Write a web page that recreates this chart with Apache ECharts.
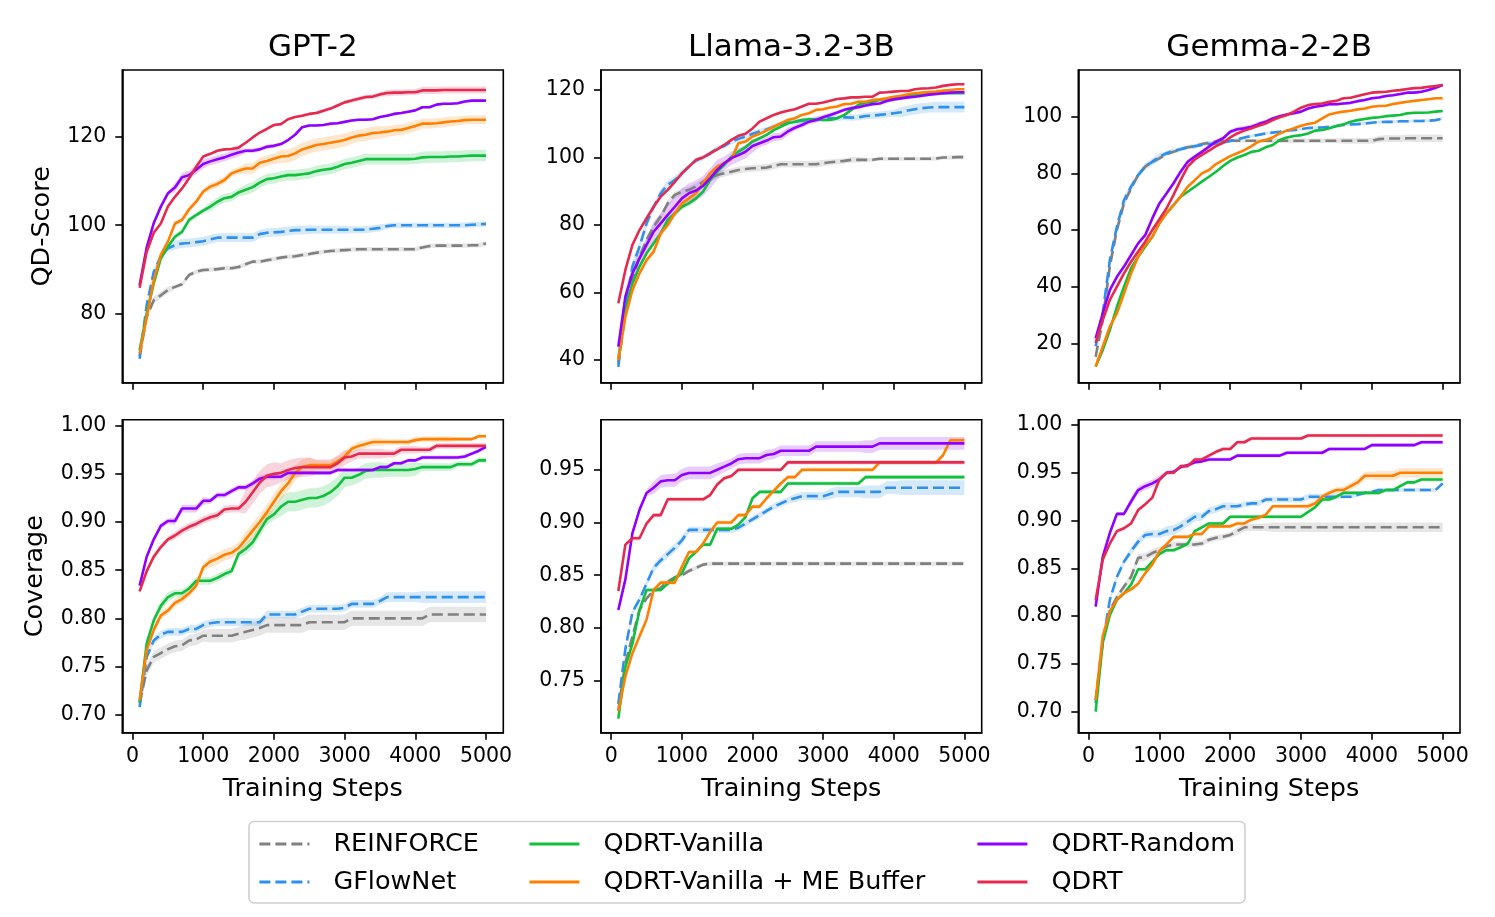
<!DOCTYPE html>
<html><head><meta charset="utf-8">
<script src="https://cdn.jsdelivr.net/npm/echarts@6/dist/echarts.min.js"></script>
<style>html,body{margin:0;padding:0;background:#fff}#chart{width:1495px;height:917px}</style>
</head><body><div id="chart"></div>
<script>
// ---------------- DATA ----------------
const models = ['GPT-2', 'Llama-3.2-3B', 'Gemma-2-2B'];
const methods = ['REINFORCE', 'GFlowNet', 'QDRT-Vanilla', 'QDRT-Vanilla + ME Buffer', 'QDRT-Random', 'QDRT'];
const steps = [100,200,300,400,500,600,700,800,900,1000,1100,1200,1300,1400,1500,1600,1700,1800,1900,2000,
  2100,2200,2300,2400,2500,2600,2700,2800,2900,3000,3100,3200,3300,3400,3500,3600,3700,3800,3900,4000,
  4100,4200,4300,4400,4500,4600,4700,4800,4900,5000];
const xTicks = [0, 1000, 2000, 3000, 4000, 5000];
const gpt2QDTicks = [80, 100, 120];
const llamaQDTicks = [40, 60, 80, 100, 120];
const gemmaQDTicks = [20, 40, 60, 80, 100];
const gpt2CovTicks = [0.70, 0.75, 0.80, 0.85, 0.90, 0.95, 1.00];
const llamaCovTicks = [0.75, 0.80, 0.85, 0.90, 0.95];
const gemmaCovTicks = [0.70, 0.75, 0.80, 0.85, 0.90, 0.95, 1.00];

// GPT-2 QD-Score
const gpt2QD_REINFORCE = [70.5,79.3,83.1,84.2,85.4,86.1,86.7,88.8,89.5,89.9,90.0,90.1,90.3,90.3,90.6,91.2,91.8,91.8,92.1,92.4,92.7,92.9,93.0,93.3,93.5,93.8,94.0,94.2,94.3,94.4,94.5,94.6,94.6,94.6,94.6,94.6,94.6,94.6,94.6,94.6,95.0,95.3,95.4,95.4,95.4,95.4,95.4,95.5,95.5,95.9];
const gpt2QD_GFlowNet = [69.9,82.0,89.5,93.0,94.8,95.5,95.9,96.0,96.2,96.4,96.8,97.2,97.2,97.2,97.2,97.2,97.2,98.0,98.3,98.4,98.5,98.7,98.9,98.9,99.0,99.0,99.0,99.0,99.0,99.0,99.0,99.0,99.0,99.2,99.4,99.8,100.0,100.0,100.0,100.0,100.0,100.0,100.0,100.0,100.0,100.0,100.0,100.1,100.2,100.3];
const gpt2QD_Vanilla = [71.8,80.1,86.9,92.5,95.2,97.4,98.5,101.2,102.3,103.3,104.2,105.3,106.1,106.4,107.4,108.0,108.6,109.6,110.4,110.6,111.0,111.3,111.3,111.5,111.7,112.2,112.5,112.7,113.2,113.8,114.1,114.5,114.9,114.9,114.9,114.9,114.9,114.9,114.9,115.0,115.3,115.4,115.4,115.4,115.5,115.5,115.6,115.7,115.7,115.7];
const gpt2QD_MEBuffer = [71.1,79.3,87.6,93.3,96.3,100.4,101.2,103.6,105.3,107.6,108.7,109.3,110.2,111.7,112.3,112.8,112.8,114.1,114.5,115.0,115.5,115.6,116.2,117.1,117.6,118.1,118.3,118.6,118.9,119.2,119.8,120.2,120.4,120.8,120.9,121.1,121.4,121.5,121.9,122.4,122.9,122.9,123.0,123.2,123.4,123.5,123.7,123.8,123.8,123.8];
const gpt2QD_Random = [86.5,95.0,100.5,104.2,107.2,108.5,110.8,111.3,112.5,113.8,114.4,114.9,115.3,115.9,116.4,116.8,116.8,117.1,117.7,117.9,118.3,119.2,120.4,122.1,122.5,122.5,122.6,122.9,123.0,123.3,123.6,123.8,123.8,123.9,124.4,124.7,125.1,125.3,125.6,125.9,126.6,126.6,127.2,127.4,127.4,127.5,127.9,128.1,128.1,128.1];
const gpt2QD_QDRT = [85.9,94.0,98.3,100.4,104.2,106.4,108.3,110.6,113.2,115.5,116.1,116.8,117.1,117.2,117.5,118.6,119.8,120.9,121.7,122.6,122.8,123.9,124.4,124.7,125.1,125.3,125.8,126.3,127.0,127.7,128.1,128.5,128.9,129.0,129.5,129.8,129.9,129.9,130.0,130.0,130.4,130.4,130.4,130.5,130.5,130.5,130.5,130.5,130.5,130.5];
// band half-widths, one value per 500 steps
const gpt2QD_band = [
  [0.8,0.5,0.5,0.5,0.5,0.5,0.5,0.5,0.5,0.5],
  [0.8,1.0,1.0,1.0,1.0,0.9,0.8,0.6,0.6,0.6],
  [0.5,0.6,1.0,1.2,1.2,1.2,1.2,1.2,1.3,1.3],
  [0.5,0.6,0.8,1.2,1.5,1.5,1.4,1.2,1.1,1.0],
  [0.4,1.0,0.9,0.5,0.3,0.3,0.3,0.3,0.3,0.3],
  [0.3,0.3,0.3,0.3,0.3,0.4,0.5,0.7,0.8,0.8]];

// Llama QD-Score
const llamaQD_REINFORCE = [39.0,53.8,63.7,70.6,75.6,79.5,82.5,86.4,88.9,89.9,90.4,91.4,92.8,93.8,94.8,95.3,95.8,96.3,96.6,96.8,96.9,97.0,97.5,98.0,98.0,98.0,98.0,98.0,98.0,98.3,98.6,98.8,99.0,99.3,99.3,99.3,99.3,99.6,99.6,99.6,99.6,99.6,99.6,99.6,99.6,99.7,100.0,100.0,100.1,100.1];
const llamaQD_GFlowNet = [38.0,55.8,67.7,73.6,80.5,85.4,89.4,91.9,93.3,95.3,97.3,99.1,100.0,101.2,102.7,103.4,104.7,105.5,106.2,107.0,107.7,108.3,109.1,109.8,110.3,110.6,110.9,111.1,111.3,111.4,111.6,111.7,111.9,111.8,111.9,112.3,112.4,112.6,112.8,113.1,113.4,113.9,114.3,114.6,114.8,114.9,114.9,114.9,114.9,114.9];
const llamaQD_Vanilla = [40.5,54.8,62.7,67.7,71.6,74.6,77.5,81.5,83.5,85.4,86.4,87.9,89.9,93.3,95.8,97.8,100.2,101.7,103.0,104.7,105.7,106.7,108.1,109.1,110.1,110.6,111.1,111.3,111.3,111.1,111.1,111.6,112.6,114.1,115.6,116.2,116.5,117.0,117.3,117.8,118.0,118.3,118.5,118.7,118.8,119.0,119.0,119.0,119.0,119.0];
const llamaQD_MEBuffer = [40.0,52.8,60.7,65.7,69.6,72.1,77.5,80.0,83.5,86.4,87.9,89.4,92.3,95.3,97.3,98.3,99.5,104.2,104.7,106.2,107.0,108.0,109.1,110.1,111.1,111.6,112.6,113.1,114.1,114.3,114.8,115.1,115.8,115.9,116.5,116.5,117.0,117.2,117.5,118.0,118.3,118.7,119.0,119.2,119.4,119.5,119.8,120.0,120.2,120.2];
const llamaQD_Random = [44.0,58.8,65.7,70.1,74.1,78.0,80.5,83.0,85.4,87.9,89.4,90.2,91.6,93.8,96.3,98.3,99.8,100.7,101.7,103.4,104.2,105.0,106.0,106.2,107.7,108.8,109.6,110.6,111.1,111.9,112.6,113.3,114.1,114.6,114.9,115.4,115.8,116.0,116.7,117.2,117.5,117.8,118.0,118.3,118.6,118.8,119.0,119.2,119.3,119.3];
const llamaQD_QDRT = [56.8,66.7,74.1,78.5,82.0,85.4,88.4,90.4,92.8,95.3,97.3,99.3,100.0,101.2,102.4,103.7,105.2,106.4,107.0,108.6,110.6,111.6,112.6,113.3,113.8,114.3,115.1,115.9,115.9,116.3,116.8,117.3,117.5,117.8,117.8,118.0,118.0,119.2,119.3,119.5,119.7,119.7,120.2,120.4,120.5,120.7,121.2,121.5,121.7,121.7];
const llamaQD_band = [
  [1.0,1.0,1.0,1.0,1.0,1.0,0.8,0.6,0.6,0.6],
  [1.5,1.2,0.8,0.8,0.8,0.8,0.9,1.0,1.5,1.6],
  [0.6,0.8,0.8,0.6,0.4,0.4,0.4,0.3,0.3,0.3],
  [0.6,1.0,0.8,0.6,0.5,0.4,0.4,0.3,0.3,0.3],
  [2.0,3.0,3.0,2.0,1.2,0.8,0.6,0.5,0.5,0.5],
  [0.5,0.5,0.4,0.4,0.4,0.3,0.3,0.3,0.3,0.3]];

// Gemma QD-Score
const gemmaQD_REINFORCE = [15.3,28.2,47.1,60.0,69.4,74.7,79.4,82.4,84.1,85.3,86.8,87.6,88.5,89.2,89.6,90.4,90.8,91.2,91.4,91.5,91.5,91.5,91.5,91.5,91.5,91.5,91.5,91.5,91.5,91.5,91.5,91.5,91.5,91.5,91.5,91.5,91.5,91.5,91.5,91.5,92.1,92.3,92.3,92.3,92.4,92.4,92.4,92.4,92.4,92.4];
const gemmaQD_GFlowNet = [19.0,30.6,49.4,61.2,70.6,75.3,79.4,82.4,84.1,85.9,87.1,88.0,88.5,89.2,89.6,90.0,90.4,90.6,90.9,91.4,92.0,92.7,93.2,93.6,94.1,94.4,94.7,95.1,95.3,95.6,96.0,96.1,96.2,96.5,96.7,97.1,97.3,97.4,97.6,97.9,98.1,98.2,98.2,98.4,98.4,98.5,98.5,98.6,98.8,99.4];
const gemmaQD_Vanilla = [11.8,17.6,24.7,32.9,40.0,46.5,50.6,54.1,57.6,62.4,65.9,68.8,71.8,73.5,75.3,77.1,78.8,80.6,82.6,84.4,85.6,86.5,87.6,88.0,89.2,90.0,91.8,92.7,93.2,93.5,94.1,95.1,95.3,95.9,96.7,97.3,98.2,98.8,99.2,99.6,99.8,100.2,100.4,100.6,101.2,101.4,101.4,101.5,101.8,102.0];
const gemmaQD_MEBuffer = [11.8,18.8,25.9,30.6,37.6,44.7,50.6,54.7,57.6,62.4,65.9,68.8,71.8,75.3,77.6,80.0,81.2,83.3,84.7,86.1,87.1,88.2,89.6,91.2,91.8,92.7,94.1,95.1,95.9,96.8,97.4,97.9,99.4,100.8,101.4,101.8,102.1,102.6,102.9,103.5,103.8,103.9,104.5,104.9,105.3,105.6,105.9,106.2,106.5,106.5];
const gemmaQD_Random = [21.8,30.6,38.8,43.5,47.1,51.2,55.3,58.2,64.1,69.4,72.9,76.5,80.6,84.1,85.9,87.6,89.4,91.2,92.4,94.7,95.6,95.9,96.5,97.4,98.2,99.4,100.2,100.8,101.2,101.8,102.9,103.5,103.9,104.4,104.4,104.7,104.9,105.5,105.9,106.5,106.8,107.3,107.6,108.0,108.5,108.5,108.8,109.4,110.2,111.2];
const gemmaQD_QDRT = [20.2,28.2,35.3,40.0,44.7,48.8,52.4,55.9,60.0,63.8,67.6,72.4,77.6,82.4,84.9,86.5,88.0,89.6,90.8,92.7,94.1,95.1,95.9,96.8,97.6,98.8,99.8,100.6,101.8,103.2,104.1,104.5,104.7,105.3,105.6,106.5,106.7,107.3,107.9,108.5,108.7,108.8,109.2,109.4,109.8,110.1,110.2,110.6,110.8,111.2];
const gemmaQD_band = [
  [1.5,0.8,0.6,0.6,0.6,0.8,0.8,1.0,1.2,1.3],
  [1.5,1.2,0.8,0.5,0.5,0.5,0.5,0.5,0.5,0.5],
  [0.4,0.4,0.4,0.4,0.4,0.4,0.4,0.4,0.4,0.4],
  [0.4,0.4,0.4,0.4,0.4,0.4,0.4,0.4,0.4,0.4],
  [0.5,0.6,0.8,0.8,0.8,0.6,0.5,0.5,0.5,0.5],
  [0.4,0.4,0.4,0.4,0.4,0.4,0.4,0.4,0.4,0.4]];

// GPT-2 Coverage
const gpt2Cov_REINFORCE = [0.712,0.746,0.760,0.764,0.768,0.771,0.772,0.777,0.778,0.782,0.782,0.782,0.782,0.782,0.784,0.786,0.788,0.790,0.793,0.793,0.793,0.793,0.793,0.793,0.796,0.796,0.796,0.796,0.796,0.796,0.800,0.800,0.800,0.800,0.800,0.800,0.800,0.800,0.800,0.800,0.800,0.804,0.804,0.804,0.804,0.804,0.804,0.804,0.804,0.804];
const gpt2Cov_GFlowNet = [0.708,0.760,0.777,0.783,0.786,0.786,0.786,0.789,0.789,0.793,0.795,0.796,0.796,0.796,0.796,0.796,0.796,0.796,0.804,0.804,0.804,0.804,0.804,0.807,0.810,0.810,0.810,0.810,0.810,0.811,0.815,0.815,0.815,0.815,0.818,0.822,0.822,0.822,0.822,0.822,0.822,0.822,0.822,0.822,0.822,0.822,0.822,0.822,0.822,0.822];
const gpt2Cov_Vanilla = [0.713,0.774,0.798,0.813,0.822,0.826,0.826,0.831,0.839,0.839,0.839,0.842,0.846,0.849,0.867,0.872,0.879,0.891,0.903,0.908,0.916,0.921,0.921,0.923,0.925,0.925,0.927,0.931,0.937,0.946,0.946,0.949,0.953,0.954,0.954,0.954,0.954,0.954,0.954,0.955,0.957,0.957,0.957,0.957,0.957,0.960,0.960,0.960,0.964,0.964];
const gpt2Cov_MEBuffer = [0.715,0.767,0.788,0.803,0.808,0.816,0.820,0.826,0.834,0.853,0.859,0.862,0.866,0.868,0.873,0.882,0.891,0.900,0.910,0.921,0.932,0.940,0.951,0.957,0.959,0.959,0.959,0.959,0.963,0.968,0.976,0.979,0.981,0.983,0.983,0.983,0.983,0.983,0.983,0.985,0.986,0.986,0.986,0.986,0.986,0.986,0.986,0.986,0.989,0.989];
const gpt2Cov_Random = [0.834,0.864,0.882,0.896,0.901,0.901,0.914,0.914,0.914,0.922,0.922,0.928,0.928,0.932,0.936,0.936,0.940,0.945,0.947,0.947,0.947,0.951,0.951,0.951,0.951,0.951,0.951,0.951,0.954,0.954,0.954,0.954,0.954,0.954,0.957,0.957,0.961,0.961,0.964,0.964,0.967,0.967,0.967,0.967,0.967,0.967,0.968,0.971,0.974,0.978];
const gpt2Cov_QDRT = [0.828,0.849,0.864,0.874,0.882,0.886,0.891,0.895,0.898,0.902,0.905,0.907,0.913,0.914,0.914,0.921,0.931,0.941,0.948,0.950,0.951,0.954,0.956,0.957,0.957,0.957,0.957,0.957,0.961,0.967,0.968,0.971,0.971,0.971,0.971,0.971,0.971,0.975,0.975,0.975,0.975,0.975,0.979,0.979,0.979,0.979,0.979,0.979,0.979,0.979];
const gpt2Cov_band = [
  [0.006,0.006,0.007,0.008,0.008,0.008,0.008,0.008,0.008,0.008],
  [0.004,0.004,0.004,0.004,0.004,0.004,0.004,0.005,0.006,0.006],
  [0.005,0.004,0.004,0.006,0.010,0.010,0.008,0.007,0.004,0.003],
  [0.004,0.004,0.006,0.008,0.008,0.005,0.004,0.003,0.003,0.002],
  [0.003,0.004,0.003,0.003,0.002,0.002,0.002,0.002,0.002,0.002],
  [0.003,0.004,0.004,0.012,0.010,0.008,0.005,0.004,0.003,0.003]];

// Llama Coverage
const llamaCov_REINFORCE = [0.722,0.767,0.792,0.817,0.828,0.835,0.838,0.844,0.848,0.850,0.854,0.857,0.860,0.861,0.861,0.861,0.861,0.861,0.861,0.861,0.861,0.861,0.861,0.861,0.861,0.861,0.861,0.861,0.861,0.861,0.861,0.861,0.861,0.861,0.861,0.861,0.861,0.861,0.861,0.861,0.861,0.861,0.861,0.861,0.861,0.861,0.861,0.861,0.861,0.861];
const llamaCov_GFlowNet = [0.728,0.780,0.815,0.827,0.842,0.857,0.864,0.870,0.876,0.883,0.893,0.893,0.893,0.893,0.893,0.893,0.893,0.895,0.899,0.903,0.907,0.911,0.915,0.918,0.921,0.923,0.925,0.925,0.925,0.925,0.927,0.929,0.929,0.929,0.929,0.929,0.929,0.929,0.933,0.933,0.933,0.933,0.933,0.933,0.933,0.933,0.933,0.933,0.933,0.933];
const llamaCov_Vanilla = [0.714,0.763,0.785,0.817,0.836,0.836,0.836,0.842,0.847,0.852,0.866,0.872,0.879,0.879,0.894,0.894,0.894,0.898,0.905,0.923,0.929,0.929,0.929,0.929,0.937,0.937,0.937,0.937,0.937,0.937,0.937,0.937,0.937,0.937,0.937,0.943,0.943,0.943,0.943,0.943,0.943,0.943,0.943,0.943,0.943,0.943,0.943,0.943,0.943,0.943];
const llamaCov_MEBuffer = [0.721,0.754,0.776,0.792,0.808,0.836,0.843,0.843,0.843,0.858,0.872,0.872,0.880,0.891,0.900,0.900,0.900,0.907,0.907,0.915,0.915,0.923,0.930,0.937,0.943,0.943,0.950,0.950,0.950,0.950,0.950,0.950,0.950,0.950,0.950,0.950,0.950,0.957,0.957,0.957,0.957,0.957,0.957,0.957,0.957,0.957,0.964,0.978,0.978,0.978];
const llamaCov_Random = [0.817,0.846,0.890,0.912,0.928,0.933,0.939,0.940,0.940,0.945,0.947,0.947,0.947,0.947,0.950,0.953,0.956,0.960,0.961,0.961,0.961,0.964,0.965,0.968,0.968,0.968,0.968,0.968,0.972,0.972,0.972,0.972,0.972,0.972,0.972,0.972,0.972,0.975,0.975,0.975,0.975,0.975,0.975,0.975,0.975,0.975,0.975,0.975,0.975,0.975];
const llamaCov_QDRT = [0.835,0.879,0.885,0.885,0.899,0.907,0.907,0.922,0.922,0.922,0.922,0.922,0.922,0.926,0.936,0.942,0.944,0.950,0.950,0.950,0.950,0.950,0.950,0.950,0.957,0.957,0.957,0.957,0.957,0.957,0.957,0.957,0.957,0.957,0.957,0.957,0.957,0.957,0.957,0.957,0.957,0.957,0.957,0.957,0.957,0.957,0.957,0.957,0.957,0.957];
const llamaCov_band = [
  [0.002,0.002,0.002,0.002,0.002,0.002,0.002,0.002,0.002,0.002],
  [0.003,0.004,0.003,0.003,0.003,0.004,0.005,0.006,0.007,0.007],
  [0.002,0.002,0.002,0.002,0.002,0.002,0.002,0.002,0.002,0.002],
  [0.002,0.002,0.002,0.002,0.002,0.002,0.002,0.002,0.002,0.002],
  [0.003,0.006,0.006,0.005,0.005,0.005,0.005,0.006,0.006,0.006],
  [0.002,0.002,0.002,0.002,0.002,0.002,0.002,0.002,0.002,0.002]];

// Gemma Coverage
const gemmaCov_REINFORCE = [0.712,0.775,0.806,0.820,0.831,0.841,0.861,0.862,0.866,0.869,0.873,0.875,0.875,0.875,0.875,0.876,0.880,0.882,0.883,0.885,0.889,0.893,0.893,0.893,0.893,0.893,0.893,0.893,0.893,0.893,0.893,0.893,0.893,0.893,0.893,0.893,0.893,0.893,0.893,0.893,0.893,0.893,0.893,0.893,0.893,0.893,0.893,0.893,0.893,0.893];
const gemmaCov_GFlowNet = [0.709,0.772,0.817,0.841,0.857,0.868,0.878,0.885,0.886,0.886,0.889,0.890,0.894,0.899,0.904,0.904,0.910,0.912,0.915,0.915,0.915,0.917,0.918,0.918,0.922,0.922,0.922,0.922,0.922,0.922,0.925,0.925,0.925,0.925,0.925,0.925,0.925,0.927,0.929,0.930,0.932,0.932,0.932,0.932,0.932,0.932,0.932,0.932,0.932,0.939];
const gemmaCov_Vanilla = [0.700,0.772,0.801,0.817,0.824,0.833,0.849,0.849,0.857,0.865,0.869,0.869,0.872,0.876,0.889,0.893,0.897,0.897,0.897,0.904,0.904,0.904,0.904,0.904,0.904,0.904,0.904,0.904,0.904,0.904,0.909,0.914,0.922,0.922,0.925,0.929,0.929,0.929,0.929,0.929,0.929,0.932,0.932,0.936,0.940,0.940,0.943,0.943,0.943,0.943];
const gemmaCov_MEBuffer = [0.712,0.779,0.805,0.817,0.824,0.828,0.834,0.845,0.854,0.868,0.875,0.883,0.883,0.883,0.886,0.886,0.894,0.894,0.894,0.894,0.897,0.897,0.901,0.903,0.906,0.915,0.915,0.915,0.915,0.915,0.915,0.918,0.925,0.929,0.932,0.932,0.936,0.940,0.947,0.947,0.947,0.947,0.947,0.950,0.950,0.950,0.950,0.950,0.950,0.950];
const gemmaCov_Random = [0.810,0.862,0.887,0.907,0.907,0.920,0.932,0.936,0.939,0.943,0.950,0.951,0.956,0.958,0.961,0.962,0.964,0.964,0.964,0.964,0.968,0.968,0.968,0.968,0.968,0.968,0.968,0.971,0.971,0.971,0.971,0.971,0.971,0.975,0.975,0.975,0.975,0.975,0.975,0.979,0.979,0.979,0.979,0.979,0.979,0.979,0.982,0.982,0.982,0.982];
const gemmaCov_QDRT = [0.817,0.859,0.876,0.889,0.892,0.897,0.911,0.917,0.924,0.943,0.950,0.950,0.957,0.957,0.964,0.964,0.968,0.972,0.975,0.975,0.982,0.982,0.986,0.986,0.986,0.986,0.986,0.986,0.986,0.986,0.989,0.989,0.989,0.989,0.989,0.989,0.989,0.989,0.989,0.989,0.989,0.989,0.989,0.989,0.989,0.989,0.989,0.989,0.989,0.989];
const gemmaCov_band = [
  [0.003,0.004,0.003,0.003,0.004,0.005,0.005,0.005,0.005,0.005],
  [0.003,0.004,0.005,0.004,0.003,0.003,0.003,0.002,0.002,0.002],
  [0.002,0.002,0.002,0.002,0.002,0.002,0.002,0.002,0.002,0.002],
  [0.002,0.002,0.002,0.002,0.002,0.002,0.003,0.004,0.005,0.005],
  [0.002,0.004,0.002,0.002,0.002,0.002,0.002,0.002,0.002,0.002],
  [0.002,0.002,0.002,0.002,0.002,0.002,0.002,0.002,0.002,0.002]];

// ---------------- STYLE / LAYOUT ----------------
const FONT = 'DejaVu Sans';
const colors = ['#808080', '#2F8FEC', '#10BF3C', '#FF8000', '#8F00FF', '#E6294F'];
const dashed = [true, true, false, false, false, false];
const colLeft = [122.3, 601, 1078.3];
const colWidth = [381, 380.7, 381.7];
const rowTop = [70, 419.7];
const rowHeight = [312.7, 313];
const TICK_FS = 20.5, LABEL_FS = 25.5, TITLE_FS = 31, LEGEND_FS = 25.5;

const panels = [
  {row:0, col:0, series:[gpt2QD_REINFORCE,gpt2QD_GFlowNet,gpt2QD_Vanilla,gpt2QD_MEBuffer,gpt2QD_Random,gpt2QD_QDRT], band:gpt2QD_band, yMin:64.5, yMax:135, ticks:gpt2QDTicks, dec:0, name:'QD-Score', nameGap:67},
  {row:0, col:1, series:[llamaQD_REINFORCE,llamaQD_GFlowNet,llamaQD_Vanilla,llamaQD_MEBuffer,llamaQD_Random,llamaQD_QDRT], band:llamaQD_band, yMin:33.3, yMax:125.9, ticks:llamaQDTicks, dec:0},
  {row:0, col:2, series:[gemmaQD_REINFORCE,gemmaQD_GFlowNet,gemmaQD_Vanilla,gemmaQD_MEBuffer,gemmaQD_Random,gemmaQD_QDRT], band:gemmaQD_band, yMin:6.1, yMax:116.5, ticks:gemmaQDTicks, dec:0},
  {row:1, col:0, series:[gpt2Cov_REINFORCE,gpt2Cov_GFlowNet,gpt2Cov_Vanilla,gpt2Cov_MEBuffer,gpt2Cov_Random,gpt2Cov_QDRT], band:gpt2Cov_band, yMin:0.6813, yMax:1.0062, ticks:gpt2CovTicks, dec:2, name:'Coverage', nameGap:74},
  {row:1, col:1, series:[llamaCov_REINFORCE,llamaCov_GFlowNet,llamaCov_Vanilla,llamaCov_MEBuffer,llamaCov_Random,llamaCov_QDRT], band:llamaCov_band, yMin:0.7006, yMax:0.9975, ticks:llamaCovTicks, dec:2},
  {row:1, col:2, series:[gemmaCov_REINFORCE,gemmaCov_GFlowNet,gemmaCov_Vanilla,gemmaCov_MEBuffer,gemmaCov_Random,gemmaCov_QDRT], band:gemmaCov_band, yMin:0.678, yMax:1.0056, ticks:gemmaCovTicks, dec:2}
];

function bandRender(color) {
  return function (params, api) {
    if (params.dataIndexInside !== 0) return null;
    const n = params.dataInsideLength;
    const up = [], lo = [];
    for (let j = 0; j < n; j++) {
      const x = api.value(0, j);
      up.push(api.coord([x, api.value(2, j)]));
      lo.push(api.coord([x, api.value(1, j)]));
    }
    return { type: 'polygon', silent: true, shape: { points: up.concat(lo.reverse()) }, style: { fill: color, opacity: 0.2 } };
  };
}

const grid = [], xAxis = [], yAxis = [], series = [];
panels.forEach((p, i) => {
  grid.push({ left: colLeft[p.col], top: rowTop[p.row], width: colWidth[p.col], height: rowHeight[p.row],
    show: true, borderColor: '#000', borderWidth: 1.6, backgroundColor: 'transparent', containLabel: false, outerBoundsMode: 'none' });
  const bottom = p.row === 1;
  xAxis.push({ type: 'value', gridIndex: i, min: -145, max: 5245,
    axisLine: { show: true, onZero: false, lineStyle: { color: '#000', width: 1.6 } },
    axisTick: { show: true, length: 7, inside: false, lineStyle: { color: '#000', width: 1.6 }, customValues: xTicks },
    axisLabel: { show: bottom, customValues: xTicks, fontSize: TICK_FS, fontFamily: FONT, color: '#000', margin: 13,
      formatter: v => String(Math.round(v)) },
    splitLine: { show: false },
    name: bottom ? 'Training Steps' : '', nameLocation: 'middle', nameGap: 44,
    nameTextStyle: { fontSize: LABEL_FS, fontFamily: FONT, color: '#000' } });
  yAxis.push({ type: 'value', gridIndex: i, min: p.yMin, max: p.yMax,
    axisLine: { show: true, onZero: false, lineStyle: { color: '#000', width: 1.6 } },
    axisTick: { show: true, length: 7, inside: false, lineStyle: { color: '#000', width: 1.6 }, customValues: p.ticks },
    axisLabel: { customValues: p.ticks, fontSize: TICK_FS, fontFamily: FONT, color: '#000', margin: 16,
      formatter: v => Number(v).toFixed(p.dec) },
    splitLine: { show: false },
    name: p.name || '', nameLocation: 'middle', nameRotate: 90, nameGap: p.nameGap || 60,
    nameTextStyle: { fontSize: LABEL_FS, fontFamily: FONT, color: '#000' } });
  // bands
  p.series.forEach((vals, k) => {
    const bw = p.band[k];
    const rows = steps.map((s, j) => [s, vals[j] - bw[Math.floor(j / 5)], vals[j] + bw[Math.floor(j / 5)]]);
    series.push({ type: 'custom', name: 'band', coordinateSystem: 'cartesian2d', xAxisIndex: i, yAxisIndex: i,
      data: rows, encode: { x: 0, y: [1, 2] }, renderItem: bandRender(colors[k]), z: 1, silent: true, clip: true });
  });
  // lines
  p.series.forEach((vals, k) => {
    series.push({ type: 'line', name: methods[k], xAxisIndex: i, yAxisIndex: i,
      data: steps.map((s, j) => [s, vals[j]]), symbol: 'none', showSymbol: false, z: 2 + k,
      lineStyle: { color: colors[k], width: 2.6, type: dashed[k] ? [11, 5] : 'solid', cap: 'butt' },
      itemStyle: { color: colors[k] }, clip: true });
  });
});

const legendBase = { orient: 'vertical', top: 831, padding: 0, itemWidth: 50, itemHeight: 14, itemGap: 12, selectedMode: false,
  itemStyle: { opacity: 0 }, lineStyle: { width: 2.8 },
  textStyle: { fontSize: LEGEND_FS, fontFamily: FONT, color: '#000', lineHeight: 25, padding: [0, 0, 0, 19] } };
const legend = [
  Object.assign({}, legendBase, { left: 258, data: [methods[0], methods[1]] }),
  Object.assign({}, legendBase, { left: 528, data: [methods[2], methods[3]] }),
  Object.assign({}, legendBase, { left: 976, data: [methods[4], methods[5]] })
];

const graphic = [
  { type: 'rect', z: 0, shape: { x: 249, y: 821.5, width: 996, height: 81.5, r: 5 }, style: { fill: '#fff', stroke: '#d0d0d0', lineWidth: 1.6 } }
];
models.forEach((m, c) => {
  graphic.push({ type: 'text', x: colLeft[c] + colWidth[c] / 2, y: 48, z: 10,
    style: { text: m, fill: '#000', font: TITLE_FS + 'px "' + FONT + '"', align: 'center', verticalAlign: 'middle' } });
});

const chart = echarts.init(document.getElementById('chart'), null, { renderer: 'canvas' });
chart.setOption({ animation: false, backgroundColor: '#fff', grid, xAxis, yAxis, series, legend, graphic });
</script>
</body></html>
